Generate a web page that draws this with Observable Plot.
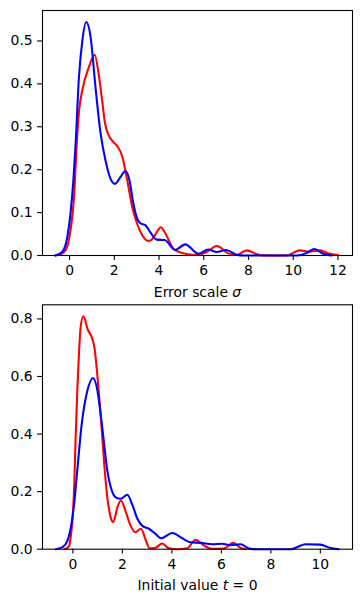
<!DOCTYPE html>
<html><head><meta charset="utf-8">
<script src="https://cdn.jsdelivr.net/npm/d3@7"></script>
<script src="https://cdn.jsdelivr.net/npm/@observablehq/plot@0.6"></script>
<style>
html,body{margin:0;padding:0;background:#fff;}
#chart svg{display:block;}
</style></head><body><div id="chart"></div>
<script>
// Tick labels
const errorXTicks = [0, 2, 4, 6, 8, 10, 12];
const errorYTicks = [0, 0.1, 0.2, 0.3, 0.4, 0.5];
const initXTicks = [0, 2, 4, 6, 8, 10];
const initYTicks = [0, 0.2, 0.4, 0.6, 0.8];
const seriesNames = ["red", "blue"];

// Panel 1: Error scale sigma (density curves)
const errorRedX = [-0.64, -0.45, -0.18, 0.04, 0.2, 0.31, 0.42, 0.57, 0.87, 1.12, 1.31, 1.46, 1.58, 1.75, 1.95, 2.13, 2.35, 2.58, 2.8, 3.02, 3.25, 3.5, 3.65, 3.85, 4.08, 4.3, 4.64, 5.09, 5.61, 6.13, 6.58, 7.1, 7.47, 7.92, 8.37, 8.81, 9.7, 10.3, 10.7, 11.2, 11.56, 12.0];
const errorRedY = [0, 0.002, 0.012, 0.058, 0.136, 0.25, 0.335, 0.385, 0.44, 0.468, 0.42, 0.36, 0.31, 0.28, 0.265, 0.255, 0.232, 0.175, 0.113, 0.074, 0.047, 0.034, 0.036, 0.05, 0.066, 0.05, 0.016, 0.005, 0.001, 0.008, 0.022, 0.005, 0.001, 0.012, 0.003, 0, 0, 0.012, 0.009, 0.012, 0.005, 0.001];
const errorBlueX = [-0.64, -0.33, -0.1, 0.04, 0.17, 0.27, 0.42, 0.57, 0.745, 0.94, 1.16, 1.38, 1.61, 1.83, 2.03, 2.28, 2.5, 2.68, 2.83, 2.98, 3.17, 3.39, 3.6, 3.9, 4.25, 4.72, 5.17, 5.76, 6.2, 6.58, 7.0, 7.47, 7.8, 10.2, 10.6, 10.95, 11.34, 11.7];
const errorBlueY = [0, 0.008, 0.043, 0.097, 0.175, 0.26, 0.416, 0.5, 0.544, 0.509, 0.392, 0.287, 0.221, 0.179, 0.167, 0.183, 0.197, 0.175, 0.128, 0.093, 0.075, 0.071, 0.055, 0.037, 0.036, 0.013, 0.026, 0.004, 0.014, 0.008, 0.013, 0.002, 0, 0, 0.006, 0.015, 0.004, 0];

// Panel 2: Initial value t = 0
const initRedX = [-0.34, -0.16, -0.09, -0.02, 0.05, 0.11, 0.18, 0.25, 0.31, 0.42, 0.6, 0.77, 0.87, 0.96, 1.07, 1.17, 1.27, 1.39, 1.52, 1.63, 1.8, 1.94, 2.12, 2.3, 2.52, 2.75, 2.95, 3.1, 3.34, 3.61, 3.88, 4.22, 4.62, 4.95, 5.29, 5.63, 6.1, 6.48, 6.77, 6.97];
const initRedY = [0, 0.01, 0.042, 0.1, 0.215, 0.39, 0.56, 0.69, 0.77, 0.809, 0.763, 0.734, 0.7, 0.63, 0.52, 0.41, 0.29, 0.18, 0.113, 0.094, 0.146, 0.169, 0.134, 0.088, 0.059, 0.071, 0.03, 0.003, 0.005, 0.02, 0.003, 0, 0.003, 0.033, 0.013, 0.001, 0.002, 0.022, 0.005, 0];
const initBlueX = [-0.69, -0.42, -0.22, -0.06, 0.05, 0.15, 0.25, 0.34, 0.45, 0.585, 0.81, 0.99, 1.12, 1.26, 1.39, 1.53, 1.73, 1.93, 2.2, 2.41, 2.61, 2.82, 3.07, 3.34, 3.57, 4.01, 4.42, 4.75, 5.16, 5.63, 6.03, 6.37, 6.77, 7.17, 7.5, 8.8, 9.4, 10.0, 10.4, 10.74];
const initBlueY = [0, 0.007, 0.03, 0.088, 0.158, 0.25, 0.343, 0.424, 0.493, 0.551, 0.595, 0.551, 0.47, 0.366, 0.273, 0.215, 0.18, 0.175, 0.189, 0.152, 0.105, 0.08, 0.071, 0.053, 0.038, 0.056, 0.038, 0.024, 0.022, 0.017, 0.019, 0.014, 0.017, 0.001, 0, 0, 0.017, 0.016, 0.004, 0];

function toRows(xs, ys, name) { return xs.map((x, i) => ({x, y: ys[i], series: name})); }

function panel({rows, xDomain, yDomain, xTicks, yTicks, label, height, marginTop, marginBottom, labelParts}) {
  const svg = Plot.plot({
    width: 361, height, marginLeft: 42, marginRight: 9, marginTop, marginBottom,
    style: {fontFamily: "DejaVu Sans", fontSize: "13.9px", color: "black", background: "white", overflow: "visible"},
    x: {domain: xDomain},
    y: {domain: yDomain},
    color: {domain: seriesNames, range: ["#ff0000", "#0000ff"]},
    marks: [
      Plot.axisX({ticks: xTicks, tickSize: 4.9, tickPadding: 4.9, tickFormat: d => String(d), label, labelAnchor: "center", labelArrow: "none", labelOffset: 41, strokeWidth: 1.1}),
      Plot.axisY({ticks: yTicks, tickSize: 4.9, tickPadding: 4.9, tickFormat: d3.format(".1f"), label: null, strokeWidth: 1.1}),
      Plot.line(rows, {x: "x", y: "y", z: "series", stroke: "series", strokeWidth: 2.08, curve: "monotone-x"}),
      Plot.frame({stroke: "black", strokeWidth: 1.1})
    ]
  });
  const t = svg.querySelector('g[aria-label="x-axis label"] text');
  if (t) {
    t.textContent = "";
    for (const [txt, ital] of labelParts) {
      const ts = document.createElementNS("http://www.w3.org/2000/svg", "tspan");
      ts.textContent = txt;
      if (ital) ts.setAttribute("font-style", "italic");
      t.appendChild(ts);
    }
  }
  return svg;
}

const chart = document.getElementById("chart");
chart.appendChild(panel({
  rows: [...toRows(errorRedX, errorRedY, "red"), ...toRows(errorBlueX, errorBlueY, "blue")],
  xDomain: [-1.21, 12.65], yDomain: [0, 0.571],
  xTicks: errorXTicks, yTicks: errorYTicks,
  label: "Error scale σ", labelParts: [["Error scale ", false], ["σ", true]],
  height: 300, marginTop: 10, marginBottom: 45
}));
chart.appendChild(panel({
  rows: [...toRows(initRedX, initRedY, "red"), ...toRows(initBlueX, initBlueY, "blue")],
  xDomain: [-1.23, 11.3], yDomain: [0, 0.849],
  xTicks: initXTicks, yTicks: initYTicks,
  label: "Initial value t = 0", labelParts: [["Initial value ", false], ["t", true], [" = 0", false]],
  height: 303, marginTop: 4.3, marginBottom: 54.3
}));
</script></body></html>
